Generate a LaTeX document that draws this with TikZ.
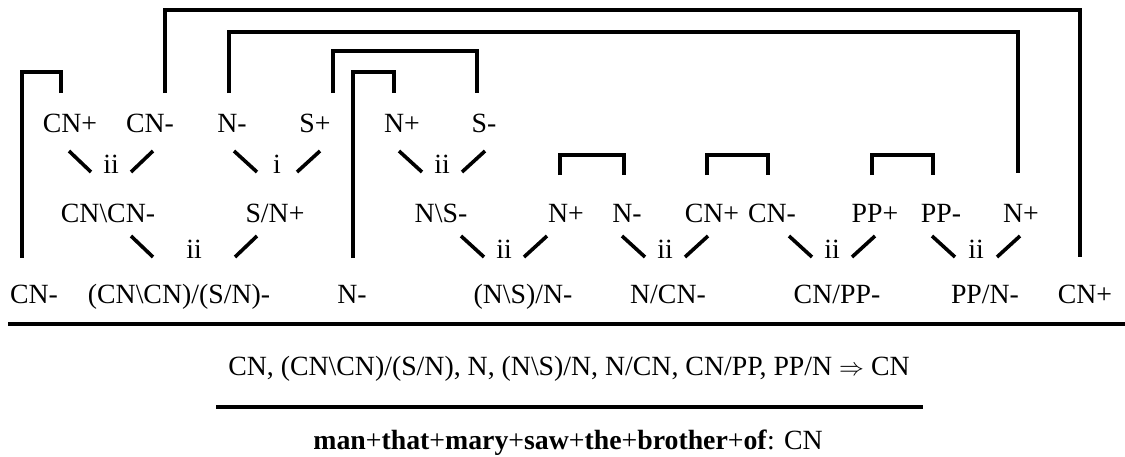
\documentclass[tikz,border=0pt]{standalone}
\usepackage{fontspec}
\setmainfont{Liberation Serif}
\usetikzlibrary{calc}
\newcommand\tickpair[3]{%
  \draw[tick] ($(#1.base)+(-#3,-22)$) -- ($(#1.base)+(-#2,-1)$);
  \draw[tick] ($(#1.base)+(#2,-1)$) -- ($(#1.base)+(#3,-22)$);}
\begin{document}
\begin{tikzpicture}[x=1pt,y=-1pt,
  lbl/.style={anchor=base,inner sep=0pt,font=\fontsize{27.8}{33}\selectfont},
  link/.style={line width=3.2pt},
  tick/.style={line width=3.6pt},
  rulebar/.style={line width=3.2pt}]
\useasboundingbox (0,0) rectangle (1125,456);
% row 1
\node[lbl] (a1) at (70,132) {CN+};
\node[lbl] (a2) at (150,132) {CN-};
\node[lbl] (a3) at (232,132) {N-};
\node[lbl] (a4) at (315,132) {S+};
\node[lbl] (a5) at (402,132) {N+};
\node[lbl] (a6) at (484,132) {S-};
% row 2 rule labels
\node[lbl] (r1) at (111,173) {ii};
\node[lbl] (r2) at (277,173) {i};
\node[lbl] (r3) at (442,173) {ii};
% row 3
\node[lbl] (c1) at (108,222) {CN\textbackslash CN-};
\node[lbl] (c2) at (275,222) {S/N+};
\node[lbl] (c3) at (441,222) {N\textbackslash S-};
\node[lbl] (c4) at (566,222) {N+};
\node[lbl] (c5) at (627,222) {N-};
\node[lbl] (c6) at (712,222) {CN+};
\node[lbl] (c7) at (772,222) {CN-};
\node[lbl] (c8) at (875,222) {PP+};
\node[lbl] (c9) at (941,222) {PP-};
\node[lbl] (c10) at (1021,222) {N+};
% row 4 rule labels
\node[lbl] (r4) at (194,258) {ii};
\node[lbl] (r5) at (504,258) {ii};
\node[lbl] (r6) at (665,258) {ii};
\node[lbl] (r7) at (832,258) {ii};
\node[lbl] (r8) at (976,258) {ii};
% row 5
\node[lbl] (e1) at (34,303) {CN-};
\node[lbl] (e2) at (179,303) {(CN\textbackslash CN)/(S/N)-};
\node[lbl] (e3) at (352,303) {N-};
\node[lbl] (e4) at (523,303) {(N\textbackslash S)/N-};
\node[lbl] (e5) at (668,303) {N/CN-};
\node[lbl] (e6) at (837,303) {CN/PP-};
\node[lbl] (e7) at (985,303) {PP/N-};
\node[lbl] (e8) at (1085,303) {CN+};
% ticks
\tickpair{r1}{20}{42}
\tickpair{r2}{20}{43}
\tickpair{r3}{20}{43}
\tickpair{r4}{41}{63}
\tickpair{r5}{20}{43}
\tickpair{r6}{20}{43}
\tickpair{r7}{20}{43}
\tickpair{r8}{21}{44}
% links
\draw[link] ([xshift=-9pt,yshift=39pt]a1.base) -- ++(0,-21) -| ([xshift=-12pt,yshift=45pt]e1.base);
\draw[link] ([xshift=15pt,yshift=39pt]a2.base) -- ++(0,-83) -| ([xshift=-5pt,yshift=46pt]e8.base);
\draw[link] ([xshift=-3pt,yshift=39pt]a3.base) -- ++(0,-61) -| ([xshift=-3pt,yshift=49pt]c10.base);
\draw[link] ([xshift=18pt,yshift=39pt]a4.base) -- ++(0,-42) -| ([xshift=-7pt,yshift=39pt]a6.base);
\draw[link] ([xshift=1pt,yshift=45pt]e3.base) -- ++(0,-186) -| ([xshift=-8pt,yshift=39pt]a5.base);
\draw[link] ([xshift=-6pt,yshift=47pt]c4.base) -- ++(0,-20) -| ([xshift=-3pt,yshift=47pt]c5.base);
\draw[link] ([xshift=-5pt,yshift=47pt]c6.base) -- ++(0,-20) -| ([xshift=-4pt,yshift=47pt]c7.base);
\draw[link] ([xshift=-3pt,yshift=47pt]c8.base) -- ++(0,-20) -| ([xshift=-8pt,yshift=47pt]c9.base);
% conclusion
\draw[rulebar] (8,324) -- (1125,324);
\node[lbl] (seq) at (569,375) {CN, (CN\textbackslash CN)/(S/N), N, (N\textbackslash S)/N, N/CN, CN/PP, PP/N $\Rightarrow$ CN};
\draw[rulebar] (216,407) -- (923,407);
\node[lbl] (sem) at (568,449) {\textbf{man}+\textbf{that}+\textbf{mary}+\textbf{saw}+\textbf{the}+\textbf{brother}+\textbf{of}: CN};
\end{tikzpicture}
\end{document}
